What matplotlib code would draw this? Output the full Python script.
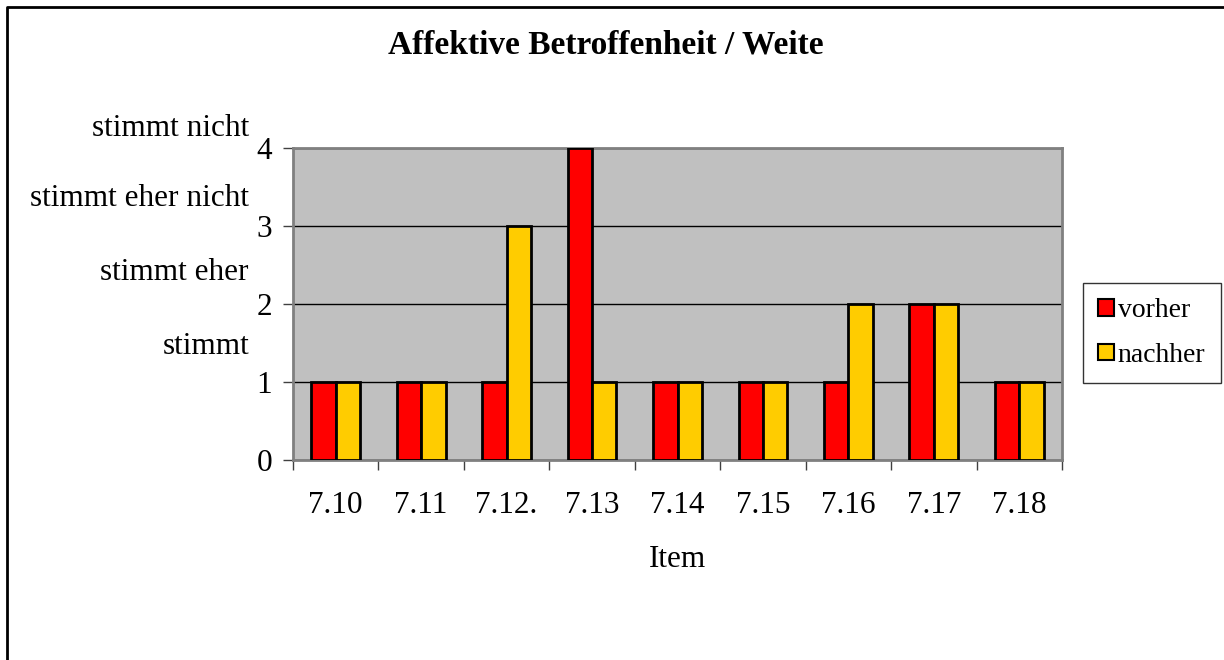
import matplotlib
matplotlib.use("Agg")
import matplotlib.pyplot as plt
import numpy as np
from matplotlib.lines import Line2D
from matplotlib.patches import Patch

categories = ["7.10", "7.11", "7.12.", "7.13", "7.14", "7.15", "7.16", "7.17", "7.18"]
vorher = [1, 1, 1, 4, 1, 1, 1, 2, 1]
nachher = [1, 1, 3, 1, 1, 1, 2, 2, 1]
scale_labels = ["stimmt", "stimmt eher", "stimmt eher nicht", "stimmt nicht"]

W, H = 1224, 660
FS = 22.5
plt.rcParams['font.family'] = ['Liberation Serif', 'DejaVu Serif']
fig = plt.figure(figsize=(W / 100, H / 100), dpi=100)
fig.patch.set_facecolor("white")

def fx(px):
    return px / W

def fy(py):
    return 1 - py / H

# outer frame (left and top)
fig.add_artist(Line2D([fx(7), fx(7), 1.0], [0.0, fy(7), fy(7)], color="black", lw=2, transform=fig.transFigure))

ax = fig.add_axes([fx(293), fy(460), fx(1062) - fx(293), fy(148) - fy(460)])
ax.set_facecolor("#C0C0C0")

x = np.arange(len(categories))
bw = 0.286
ax.bar(x - bw / 2, vorher, bw, color="#FF0000", edgecolor="black", linewidth=2, zorder=3, label="vorher")
ax.bar(x + bw / 2, nachher, bw, color="#FFCC00", edgecolor="black", linewidth=2, zorder=3, label="nachher")

ax.set_xlim(-0.5, len(categories) - 0.5)
ax.set_ylim(0, 4)
ax.set_yticks([0, 1, 2, 3, 4])
ax.yaxis.grid(True, color="black", lw=1, zorder=1)
ax.set_axisbelow(True)

ax.set_xticks(x)
ax.set_xticklabels(categories, fontsize=FS)
ax.set_xticks(np.arange(len(categories) + 1) - 0.5, minor=True)
ax.tick_params(axis="x", which="major", length=0, pad=22)
ax.tick_params(axis="x", which="minor", length=7, width=1, color="#404040", direction="out")
ax.tick_params(axis="y", length=7, width=1, color="#404040", direction="out", labelsize=FS, pad=8)

for s in ["top", "right", "left", "bottom"]:
    ax.spines[s].set_color("#808080")
    ax.spines[s].set_linewidth(2)

ax.set_xlabel("Item", fontsize=FS, labelpad=18)

fig.text(fx(606), fy(45), "Affektive Betroffenheit / Weite", ha="center", va="center", fontsize=24, fontweight="bold")

for lbl, py in zip(scale_labels, [346, 272, 198, 128]):
    fig.text(fx(249), fy(py), lbl, ha="right", va="center", fontsize=FS)

handles = [Patch(facecolor="#FF0000", edgecolor="black", linewidth=1.5, label="vorher"),
           Patch(facecolor="#FFCC00", edgecolor="black", linewidth=1.5, label="nachher")]
leg = fig.legend(handles=handles, loc="upper left", bbox_to_anchor=(fx(1083), fy(283)),
                 bbox_transform=fig.transFigure, fontsize=20, frameon=True, fancybox=False,
                 handlelength=0.55, handleheight=0.55, handletextpad=0.15, labelspacing=0.7,
                 borderpad=0.55, borderaxespad=0)
leg.get_frame().set_edgecolor("black")
leg.get_frame().set_linewidth(1)

fig.savefig("out.png", dpi=100, facecolor="white")
